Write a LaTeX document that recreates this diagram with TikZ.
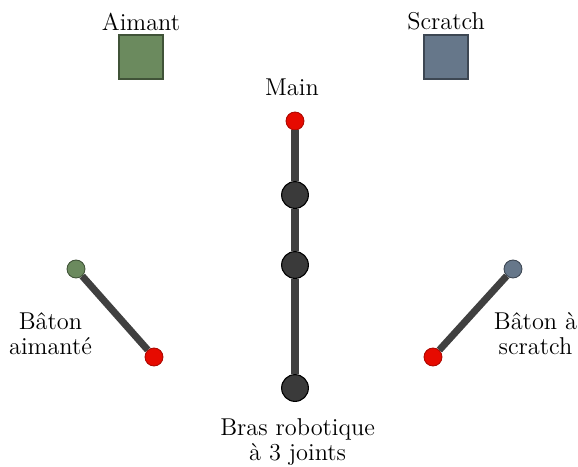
\documentclass[tikz,border=0pt]{standalone}
\usepackage{xcolor}
\usepackage{tikz}
\usetikzlibrary{positioning}
\definecolor{magnetgreen}{HTML}{6B8A5E}
\definecolor{scratchblue}{HTML}{66778A}
\definecolor{gripred}{HTML}{E60A00}
\definecolor{jointgray}{HTML}{3A3A3A}
\definecolor{roddark}{HTML}{404040}
\tikzset{
    holder/.style={rectangle, draw, line width=0.7pt, minimum size=20.3pt, inner sep=0pt},
    joint/.style={circle, draw=black, fill=jointgray, minimum size=12.2pt, inner sep=0pt, line width=0.5pt},
    grip/.style={circle, draw=gripred!75!black, fill=gripred, minimum size=8.2pt, inner sep=0pt, line width=0.4pt},
    stickend/.style={circle, minimum size=8.2pt, inner sep=0pt, line width=0.4pt},
    rod/.style={line width=3.2pt, draw=roddark},
    caption/.style={align=center, inner sep=1pt, font=\fontsize{11.1pt}{11.4pt}\selectfont}
}

\begin{document}
\begin{tikzpicture}[x=0.456pt, y=-0.456pt]
    \useasboundingbox (0,0) rectangle (578,466);
    % supports
    \node (aimant) [holder, draw=magnetgreen!60!black, fill=magnetgreen] at (141,57) {};
    \node (scratch) [holder, draw=scratchblue!60!black, fill=scratchblue] at (446,57) {};
    \node (aimantlbl) [caption, above=0.5pt of aimant] {Aimant};
    \node (scratchlbl) [caption, above=0.5pt of scratch] {Scratch};

    % bras
    \node (main) [grip] at (295,121) {};
    \node (j1) [joint] at (295,195) {};
    \node (j2) [joint] at (295,265) {};
    \node (base) [joint] at (295,388) {};
    \node (mainlbl) [caption, above=6pt of main, xshift=-1.4pt] {Main};
    \node (braslbl) [caption, below=6.3pt of base, xshift=1.2pt] {Bras robotique\\à 3 joints};
    \draw[rod] (main) -- (j1) -- (j2) -- (base);

    % batons
    \node (aend) [stickend, draw=magnetgreen!60!black, fill=magnetgreen] at (76,269) {};
    \node (agrip) [grip] at (154,357) {};
    \draw[rod] (aend) -- (agrip);
    \node (alabel) [caption] at (50.5,334) {Bâton\\aimanté};

    \node (send) [stickend, draw=scratchblue!60!black, fill=scratchblue] at (513,269) {};
    \node (sgrip) [grip] at (433,357) {};
    \draw[rod] (send) -- (sgrip);
    \node (slabel) [caption] at (535.5,334) {Bâton à\\scratch};
\end{tikzpicture}
\end{document}
